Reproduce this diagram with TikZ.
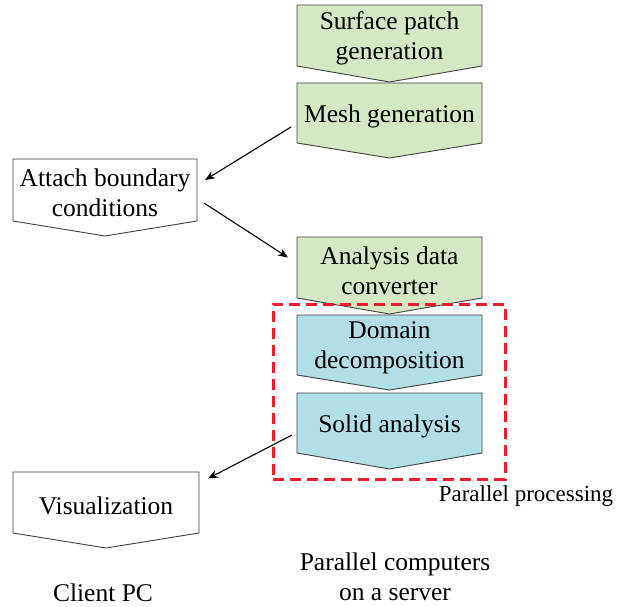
\documentclass[tikz,border=0pt]{standalone}
\usepackage{fontspec}
\setmainfont{Liberation Serif}
\usetikzlibrary{calc,arrows.meta}
\definecolor{boxgreen}{HTML}{D5E8C4}
\definecolor{boxblue}{HTML}{B2DFE6}
\definecolor{edgegray}{HTML}{404040}
\definecolor{dashred}{HTML}{EE1C2C}
\tikzset{
  lbl/.style={font=\fontsize{25.5}{30}\selectfont, align=center, inner sep=0pt},
  rectpart/.style={inner sep=0pt, outer sep=0pt},
  chevline/.style={draw=edgegray, line width=0.9pt},
  arr/.style={-{Stealth[length=10pt,width=8pt]}, line width=1.1pt, black},
}
% \mychev{name}{xl}{xr}{ytop}{yside}{ytip}{fill}{text}
\newcommand{\mychev}[8]{%
  \node[rectpart, minimum width=#3pt-#2pt, minimum height=#5pt-#4pt] (#1) at ({(#2+#3)/2},{(#4+#5)/2}) {};
  \path[chevline, fill=#7] (#1.north west) -- (#1.north east) -- (#1.south east)
     -- ($(#1.south)+(0,#6-#5)$) -- (#1.south west) -- cycle;
  \node[lbl, yshift=-3pt] (#1-t) at (#1.center) {#8};
}
\begin{document}
\begin{tikzpicture}[x=1pt,y=-1pt]
\useasboundingbox (0,0) rectangle (622,607);
\mychev{surf}{297}{482}{5}{66}{82}{boxgreen}{Surface patch\\generation}
\mychev{mesh}{297}{482}{83}{143}{158}{boxgreen}{Mesh generation}
\mychev{attach}{13}{197}{159}{221}{236}{white}{Attach boundary\\conditions}
\mychev{anal}{297}{482}{237}{298}{314}{boxgreen}{Analysis data\\converter}
\mychev{dom}{297}{482}{315}{375}{390}{boxblue}{Domain\\decomposition}
\mychev{solid}{297}{482}{393}{453}{469}{boxblue}{Solid analysis}
\mychev{vis}{13}{199}{472}{533}{548}{white}{Visualization}
\node[draw=dashred, line width=3pt, dash pattern=on 11pt off 6pt, rectpart,
      minimum width=232pt, minimum height=175pt] (par) at (389,391.5) {};
\node[lbl, font=\fontsize{23}{27}\selectfont, anchor=center] (parlbl) at (526,496) {Parallel processing};
\node[lbl] (server) at (395,577) {Parallel computers\\on a server};
\node[lbl] (client) at (103,593) {Client PC};
\draw[arr] ($(mesh.west)+(-6,14)$) -- ($(attach.east)+(8,-10)$);
\draw[arr] ($(attach.east)+(7,13)$) -- ($(anal.west)+(-9,-10)$);
\draw[arr] ($(solid.west)+(-5,12)$) -- ($(vis.east)+(9,-24)$);
\end{tikzpicture}
\end{document}
